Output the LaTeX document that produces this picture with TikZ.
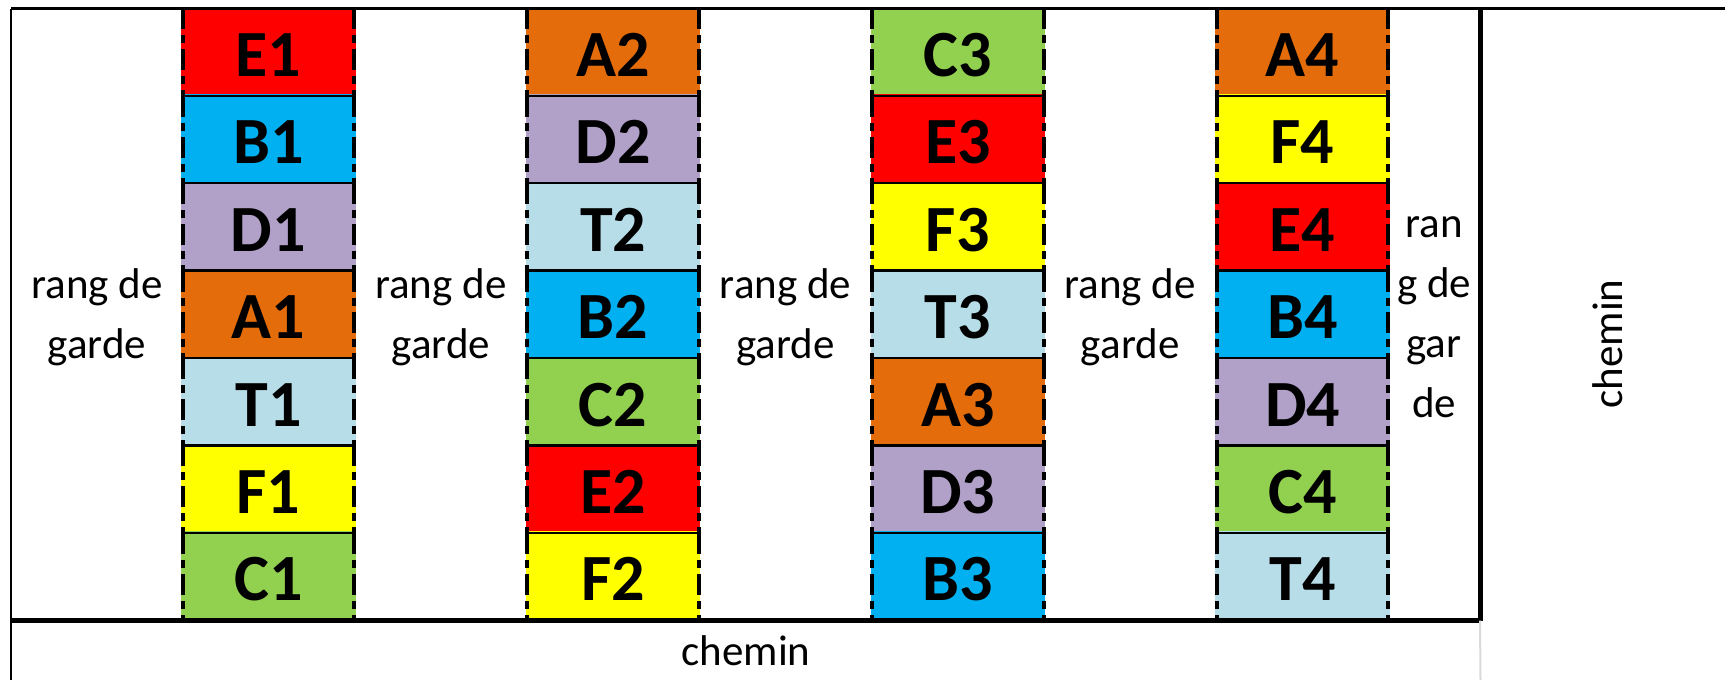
\documentclass[tikz,border=0pt]{standalone}
\usepackage{fontspec}
\setmainfont{Carlito}
% plot colours, one per variety letter
\definecolor{cE}{HTML}{FF0000}
\definecolor{cB}{HTML}{00B0F0}
\definecolor{cD}{HTML}{B1A0C7}
\definecolor{cA}{HTML}{E46C0A}
\definecolor{cT}{HTML}{B7DEE8}
\definecolor{cF}{HTML}{FFFF00}
\definecolor{cC}{HTML}{92D050}
\definecolor{pathgray}{HTML}{D9D9D9}
\begin{document}
\begin{tikzpicture}[x=0.5pt,y=-0.5pt,
  plot/.style={inner sep=0pt,outer sep=0pt,minimum width=85.75pt,minimum height=43.7pt,
    line width=1.5pt,font=\fontsize{33}{40}\selectfont\bfseries,
    text height=24.4pt,text depth=0pt},
  sep/.style={line width=1.2pt},
  side/.style={line width=2pt,dash pattern=on 10.5pt off 3pt on 4pt off 3pt},
  lbl/.style={font=\fontsize{21.5}{30}\selectfont,align=center,inner sep=0pt}]
\useasboundingbox (0,0) rectangle (1725,680);
\fill[white] (0,0) rectangle (1725,680);

% the four plot columns, listed from top to bottom
\def\layout{1/268.45/{E,B,D,A,T,F,C},2/613.15/{A,D,T,B,C,E,F},3/957.85/{C,E,F,T,A,D,B},4/1302.55/{A,F,E,B,D,C,T}}
\foreach \c/\cx/\seq in \layout {
  \foreach \k [count=\r from 0] in \seq {
    \node[plot,fill=c\k,draw=c\k] (\k\c) at (\cx,{52.1+87.4*\r}) {\k\c};
  }
}
% plot borders: solid between plots, dash-dot along the sides
\foreach \c/\cx/\seq in \layout {
  \foreach \k in \seq {
    \draw[side] (\k\c.north west) -- (\k\c.south west);
    \draw[side] (\k\c.north east) -- (\k\c.south east);
    \draw[sep] (\k\c.north west) -- (\k\c.north east);
    \draw[sep] (\k\c.south west) -- (\k\c.south east);
  }
}

% field outline
\coordinate (ftl) at (11,8.5);
\coordinate (ftr) at (1725,8.5);
\coordinate (fbl) at (11,680);
\coordinate (rtop) at (1480,8.5);
\coordinate (rbot) at (1480,620.5);
\coordinate (lbot) at (11,620.5);
\coordinate (gbot) at (1480.5,680);
\draw[line width=1.5pt] (ftl) -- (ftr);
\draw[line width=1.4pt] (ftl) -- (fbl);
\draw[line width=2.5pt] (rtop) -- (rbot);
\draw[line width=2.4pt] (lbot) -- (rbot);
\draw[pathgray,line width=1pt] (rbot) -- (gbot);

% guard rows and paths
\node[lbl] (g1) at (96.9,317.5) {rang de\\garde};
\node[lbl] (g2) at (440.8,317.5) {rang de\\garde};
\node[lbl] (g3) at (785.5,317.5) {rang de\\garde};
\node[lbl] (g4) at (1130.2,317.5) {rang de\\garde};
\node[lbl] (g5) at (1434,317.5) {ran\\g de\\gar\\de};
\node[lbl,anchor=base] (path1) at (746,665) {chemin};
\node[lbl,anchor=base,rotate=90] (path2) at (1622,344) {chemin};
\end{tikzpicture}
\end{document}
